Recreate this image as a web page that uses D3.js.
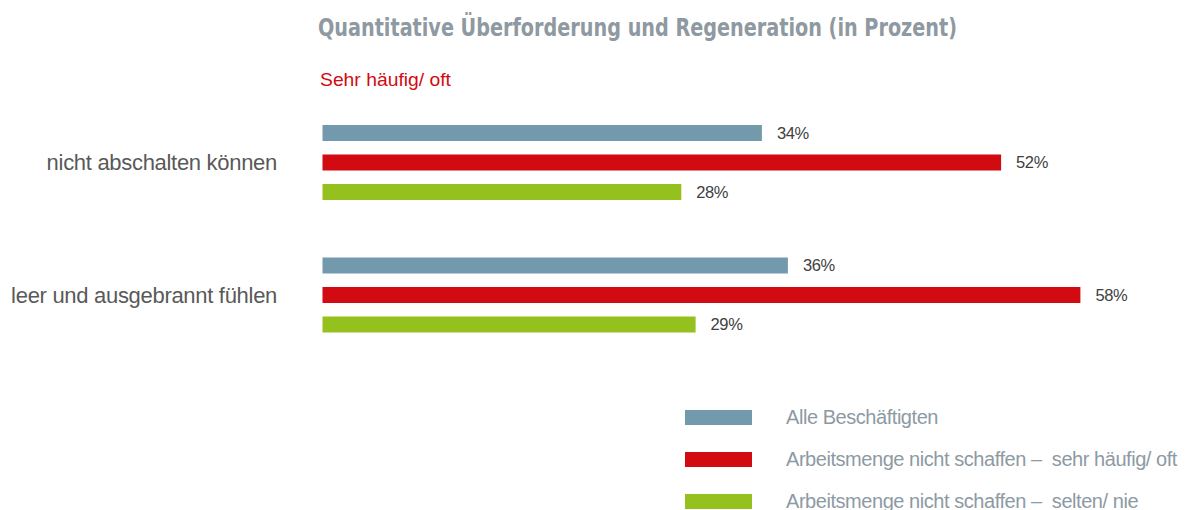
<!DOCTYPE html>
<html lang="de">
<head>
<meta charset="utf-8">
<title>Quantitative Überforderung und Regeneration</title>
<script src="https://d3js.org/d3.v7.min.js"></script>
<style>
  body { margin: 0; background: #fff; }
  svg text { font-family: "Liberation Sans", Arial, sans-serif; }
</style>
</head>
<body>
<div id="chart"></div>
<script>
// data
var categories = ["nicht abschalten können", "leer und ausgebrannt fühlen"];
var series = ["Alle Beschäftigten",
              "Arbeitsmenge nicht schaffen –  sehr häufig/ oft",
              "Arbeitsmenge nicht schaffen –  selten/ nie"];
var allValues   = [33.8, 35.8];
var oftValues   = [52.2, 58.3];
var seltenValues = [27.6, 28.7];
var colors = ["#7399ad", "#d20a11", "#95c11f"];

var w = 1186, h = 510;

var rows = [];
categories.forEach(function(c, i) {
  rows.push({cat: c, s: series[0], v: allValues[i]});
  rows.push({cat: c, s: series[1], v: oftValues[i]});
  rows.push({cat: c, s: series[2], v: seltenValues[i]});
});

var svg = d3.select("#chart").append("svg")
    .attr("width", w)
    .attr("height", h);

// scales
var xScale = d3.scaleLinear().domain([0, 100]).range([322.5, 1622.5]);
var yOuter = d3.scaleBand().domain(categories).range([96.25, 361.25]);
var yInner = d3.scaleBand().domain(series).range([-37.5, 37.5]).paddingInner(0.4576);
var color = d3.scaleOrdinal().domain(series).range(colors);

// title
svg.append("text")
    .attr("x", 318)
    .attr("y", 36)
    .attr("textLength", 639)
    .attr("lengthAdjust", "spacingAndGlyphs")
    .style("font-family", "'DejaVu Sans Condensed', 'DejaVu Sans', sans-serif")
    .style("font-weight", "bold")
    .style("font-size", "25px")
    .attr("fill", "#8e99a1")
    .text("Quantitative Überforderung und Regeneration (in Prozent)");

svg.append("text")
    .attr("x", 320)
    .attr("y", 86)
    .attr("textLength", 131)
    .attr("lengthAdjust", "spacingAndGlyphs")
    .style("font-size", "19px")
    .attr("fill", "#d20a11")
    .text("Sehr häufig/ oft");

// category labels
svg.append("g")
  .selectAll("text")
  .data(categories)
  .join("text")
    .attr("x", 277)
    .attr("y", d => yOuter(d) + yOuter.bandwidth() / 2)
    .attr("dy", "0.35em")
    .attr("text-anchor", "end")
    .style("font-size", "22px")
    .style("letter-spacing", "-0.3px")
    .attr("fill", "#595959")
    .text(d => d);

// bars
var barY = d => yOuter(d.cat) + yOuter.bandwidth() / 2 + yInner(d.s);
var bars = svg.append("g").attr("id", "bars");

bars.selectAll("rect")
  .data(rows)
  .join("rect")
    .attr("x", xScale(0))
    .attr("y", barY)
    .attr("width", d => xScale(d.v) - xScale(0))
    .attr("height", yInner.bandwidth())
    .attr("fill", d => color(d.s));

bars.selectAll("text")
  .data(rows)
  .join("text")
    .attr("x", d => xScale(d.v) + 15)
    .attr("y", d => barY(d) + yInner.bandwidth() / 2)
    .attr("dy", "0.35em")
    .style("font-size", "16.5px")
    .style("letter-spacing", "-0.4px")
    .attr("fill", "#404040")
    .text(d => Math.round(d.v) + "%");

// legend
var legY = d3.scaleBand().domain(series).range([400, 526]);
var legend = svg.append("g").attr("id", "legend");

legend.selectAll("rect")
  .data(series)
  .join("rect")
    .attr("x", 685)
    .attr("y", d => legY(d) + 10)
    .attr("width", 67)
    .attr("height", 15)
    .attr("fill", d => color(d));

legend.selectAll("text")
  .data(series)
  .join("text")
    .attr("x", 786)
    .attr("y", d => legY(d) + 17)
    .attr("dy", "0.35em")
    .style("white-space", "pre")
    .style("font-size", "20px")
    .style("letter-spacing", "-0.45px")
    .attr("fill", "#8d9aa4")
    .text(d => d);
</script>
</body>
</html>
